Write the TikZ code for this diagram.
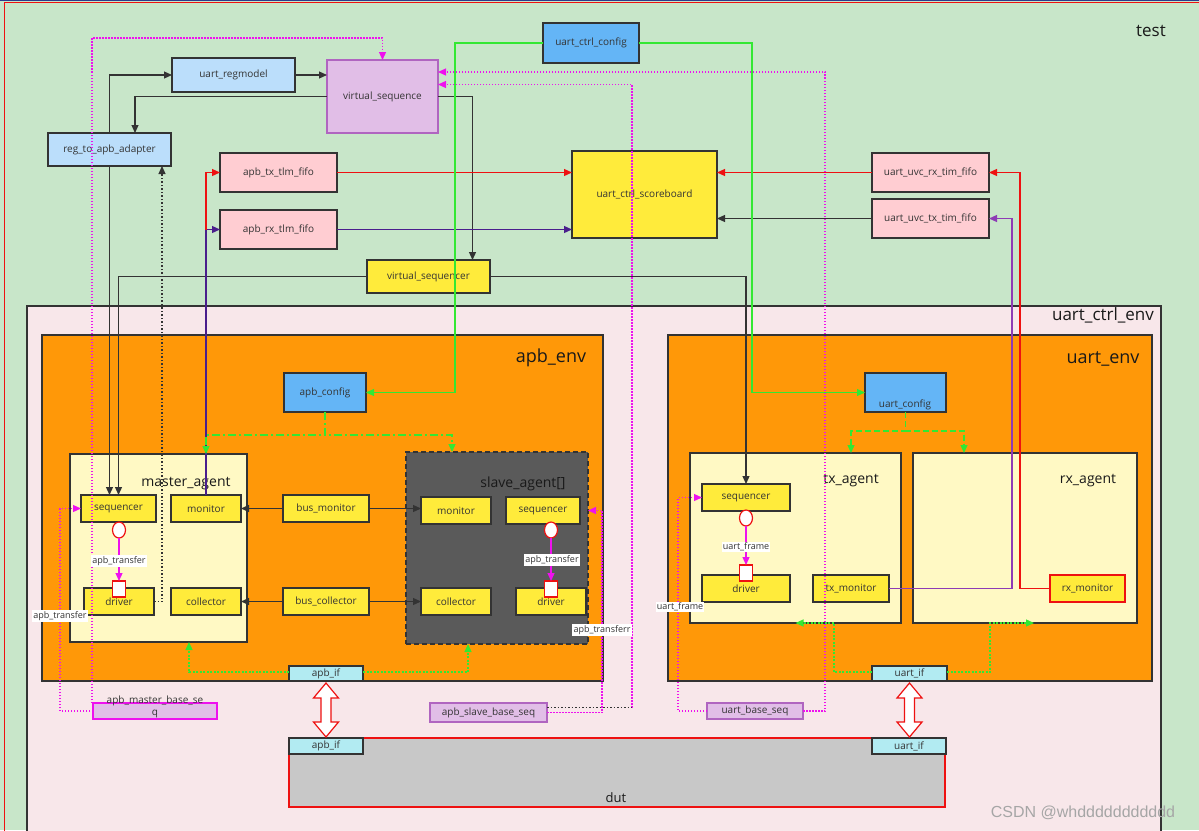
\documentclass[tikz,border=0pt]{standalone}
\usepackage{fontspec}
\setmainfont{Open Sans}
\newfontfamily\wmfont{Liberation Sans}
\usetikzlibrary{arrows.meta,shapes.geometric}
\definecolor{testbg}{HTML}{C8E6C9}
\definecolor{envbg}{HTML}{F8E7EA}
\definecolor{orng}{HTML}{FF9808}
\definecolor{agbg}{HTML}{FFF9C4}
\definecolor{ylw}{HTML}{FFEB3B}
\definecolor{cfgblue}{HTML}{64B5F6}
\definecolor{ltblue}{HTML}{BBDEFB}
\definecolor{pnk}{HTML}{FFCDD2}
\definecolor{lpur}{HTML}{E1BEE7}
\definecolor{purbd}{HTML}{B065C0}
\definecolor{ifc}{HTML}{B2EBF2}
\definecolor{dutg}{HTML}{C8C8C8}
\definecolor{dk}{HTML}{333333}
\definecolor{slv}{HTML}{5A5A5A}
\definecolor{grn}{HTML}{33E833}
\definecolor{mag}{HTML}{EE11EE}
\definecolor{rd}{HTML}{EE1111}
\definecolor{pur1}{HTML}{4A1E8C}
\definecolor{pur2}{HTML}{8E3BB5}
\definecolor{txtc}{HTML}{333333}
\definecolor{topblue}{HTML}{2A3A8C}
\newcommand\fs[1]{\fontsize{#1}{#1}\selectfont}
\newcommand\mkbox[7]{\node[#2, anchor=north west, minimum width=#5-#3, minimum height=#6-#4] (#1) at (#3,#4) {#7};}
\tikzset{
  box/.style={draw=dk, line width=1.3pt, inner sep=0pt, outer sep=0pt, text=txtc, font=\fs{10}},
  ttl/.style={text=black!90, inner sep=0pt},
  ln/.style={draw=dk, line width=1.2pt},
  arw/.style={-{Triangle[length=8pt,width=7pt]}},
  gsolid/.style={draw=grn, line width=1.2pt},
  gdd/.style={draw=grn, line width=1.3pt, dash pattern=on 8pt off 3pt on 2pt off 3pt},
  gdash/.style={draw=grn, line width=1.3pt, dash pattern=on 6pt off 3pt},
  gdot/.style={draw=grn, line width=1.3pt, dash pattern=on 2pt off 1.5pt},
  mdot/.style={draw=mag, line width=1.2pt, dash pattern=on 1.5pt off 1.5pt},
  kdot/.style={draw=dk, line width=1.2pt, dash pattern=on 1.5pt off 2pt},
  mline/.style={draw=mag, line width=1.2pt},
  lbl/.style={fill=white, inner sep=1.2pt, font=\fs{9}, text=txtc},
  portell/.style={ellipse, draw=rd, fill=white, line width=1.2pt, minimum width=13pt, minimum height=16pt, inner sep=0pt, outer sep=0pt},
  portsq/.style={rectangle, draw=rd, fill=white, line width=1.2pt, minimum width=13pt, minimum height=16pt, inner sep=0pt, outer sep=0pt},
  dblarr/.style={draw=rd, fill=white, line width=1.2pt, line join=miter},
}
\begin{document}
\begin{tikzpicture}[x=1pt,y=-1pt]
\useasboundingbox (0,0) rectangle (1199,830);
\fill[testbg] (0,0) rectangle (1199,830);
\draw[rd, line width=1.2pt] (4.5,835) -- (4.5,2.5) -- (1205,2.5);
\draw[topblue, line width=1.5pt] (0,0.5) -- (1199,0.5);
% containers
\mkbox{ucenv}{box, fill=envbg}{27}{306}{1161}{834}{}
\mkbox{apbenv}{box, fill=orng}{42}{335}{603}{681}{}
\mkbox{uenv}{box, fill=orng}{668}{335}{1152}{681}{}
% top level
\mkbox{ucc}{box, fill=cfgblue}{543}{23}{639}{63}{uart\_ctrl\_config}
\mkbox{regm}{box, fill=ltblue}{172}{58}{295}{92}{uart\_regmodel}
\mkbox{vseq}{box, fill=lpur, draw=purbd}{327}{60}{438}{133}{virtual\_sequence}
\mkbox{adapter}{box, fill=ltblue}{48}{133}{171}{166}{reg\_to\_apb\_adapter}
\mkbox{atx}{box, fill=pnk}{220}{153}{337}{192}{apb\_tx\_tlm\_fifo}
\mkbox{arx}{box, fill=pnk}{220}{210}{337}{249}{apb\_rx\_tlm\_fifo}
\mkbox{sb}{box, fill=ylw}{572}{151}{717}{238}{uart\_ctrl\_scoreboard}
\mkbox{urx}{box, fill=pnk}{872}{153}{989}{192}{uart\_uvc\_rx\_tim\_fifo}
\mkbox{utx}{box, fill=pnk}{872}{199}{989}{238}{uart\_uvc\_tx\_tim\_fifo}
\mkbox{vseqr}{box, fill=ylw}{367}{260}{490}{293}{virtual\_sequencer}
% apb_env
\mkbox{apbcfg}{box, fill=cfgblue}{284}{373}{366}{412}{apb\_config}
\mkbox{magent}{box, fill=agbg}{70}{454}{247}{642}{}
\mkbox{mseq}{box, fill=ylw}{81}{495}{156}{522}{sequencer}
\mkbox{mmon}{box, fill=ylw}{171}{495}{241}{522}{monitor}
\mkbox{mdrv}{box, fill=ylw}{84}{588}{154}{615}{driver}
\mkbox{mcol}{box, fill=ylw}{171}{588}{241}{615}{collector}
\mkbox{bmon}{box, fill=ylw}{283}{495}{369}{522}{bus\_monitor}
\mkbox{bcol}{box, fill=ylw}{283}{588}{369}{615}{bus\_collector}
\mkbox{sagent}{box, fill=slv, dash pattern=on 5pt off 3pt, line width=1.6pt}{406}{452}{588}{644}{}
\mkbox{smon}{box, fill=ylw}{421}{497}{491}{524}{monitor}
\mkbox{sseq}{box, fill=ylw}{506}{497}{580}{524}{sequencer}
\mkbox{scol}{box, fill=ylw}{421}{588}{491}{615}{collector}
\mkbox{sdrv}{box, fill=ylw}{516}{588}{586}{615}{driver}
\mkbox{apbif}{box, fill=ifc}{289}{666}{363}{681}{apb\_if}
% uart_env
\mkbox{ucfg}{box, fill=cfgblue}{865}{373}{946}{412}{}
\mkbox{txag}{box, fill=agbg}{690}{453}{901}{623}{}
\mkbox{rxag}{box, fill=agbg}{913}{453}{1137}{623}{}
\mkbox{txseq}{box, fill=ylw}{702}{484}{790}{511}{sequencer}
\mkbox{txdrv}{box, fill=ylw}{702}{575}{790}{602}{driver}
\mkbox{txmon}{box, fill=ylw}{813}{575}{889}{602}{tx\_monitor}
\mkbox{rxmon}{box, fill=ylw, draw=rd}{1050}{575}{1125}{602}{rx\_monitor}
\mkbox{uif}{box, fill=ifc}{872}{666}{947}{681}{uart\_if}
% bottom
\mkbox{ambs}{box, fill=lpur, draw=mag}{93}{703}{217}{719}{}
\mkbox{asbs}{box, fill=lpur, draw=purbd}{430}{703}{547}{722}{apb\_slave\_base\_seq}
\mkbox{ubs}{box, fill=lpur, draw=purbd}{707}{703}{803}{719}{uart\_base\_seq}
\mkbox{dut}{box, fill=dutg, draw=rd}{289}{738}{945}{807}{}
\mkbox{dapbif}{box, fill=ifc}{289}{738}{363}{754}{apb\_if}
\mkbox{duif}{box, fill=ifc}{872}{738}{946}{754}{uart\_if}
% titles
\node[ttl, font=\fs{17}] (ltest) at (1151,31) {test};
\node[ttl, font=\fs{17}] (lucenv) at (1103,315) {uart\_ctrl\_env};
\node[ttl, font=\fs{18}] (lapbenv) at (551,358) {apb\_env};
\node[ttl, font=\fs{18}] (luenv) at (1103,359) {uart\_env};
\node[ttl, font=\fs{14}] (lmag) at (186,484) {master\_agent};
\node[ttl, font=\fs{14}] (lsag) at (523,484) {slave\_agent[]};
\node[ttl, font=\fs{14}] (ltxa) at (851,481) {tx\_agent};
\node[ttl, font=\fs{14}] (lrxa) at (1088,481) {rx\_agent};
\node[ttl, font=\fs{13}] (ldut) at (616,798) {dut};
\node[inner sep=0pt, font=\fs{10}, text=txtc] (lucfg) at (905,405) {uart\_config};
\node[inner sep=0pt, font=\fontsize{10}{12}\selectfont, text=txtc, align=center] (lambs) at (155,707) {apb\_master\_base\_se\\q};
% black connectors
\draw[ln,arw] (adapter.north) |- (regm.west);
\draw[ln,arw] (regm.east) -- (regm.east -| vseq.west);
\draw[ln,arw] (vseq.west) -| ([xshift=25.5pt]adapter.north);
\draw[ln,arw] (vseq.east) -| ([xshift=44pt]vseqr.north);
\draw[ln,arw] (adapter.south) -- (adapter.south |- mseq.north);
\draw[ln,arw] (vseqr.west) -| (mseq.north);
\draw[ln,arw] (vseqr.east) -| (txseq.north);
\draw[kdot,arw] (mdrv.east) -| ([xshift=52.5pt]adapter.south);
% analysis paths
\draw[ln,draw=pur1,arw] (mmon.north) |- (arx.west);
\draw[ln,draw=rd,arw] (mmon.north |- arx.west) |- (atx.west);
\draw[ln,draw=rd,arw] (atx.east) -- (atx.east -| sb.west);
\draw[ln,draw=pur1,arw] (arx.east) -- (arx.east -| sb.west);
\draw[ln,draw=rd,arw] (urx.west) -- (urx.west -| sb.east);
\draw[ln,arw] (utx.west) -- (utx.west -| sb.east);
\draw[ln,draw=rd,arw] (rxmon.west) -| ([xshift=31pt]urx.east) -- (urx.east);
\draw[ln,draw=pur2,arw] (txmon.east) -| ([xshift=23pt]utx.east) -- (utx.east);
% config
\draw[gsolid,arw] (ucc.west) -| ([xshift=89pt]apbcfg.east) -- (apbcfg.east);
\draw[gsolid,arw] (ucc.east) -| ([xshift=-113pt]ucfg.west) -- (ucfg.west);
\draw[gdd,arw] (apbcfg.south) -- ++(0,23) -| ([xshift=47.5pt]magent.north);
\draw[gdd,arw] (apbcfg.south) -- ++(0,23) -| ([xshift=-45pt]sagent.north);
\draw[gdash,arw] (ucfg.south) -- ++(0,19) -| ([xshift=55.5pt]txag.north);
\draw[gdash,arw] (ucfg.south) -- ++(0,19) -| ([xshift=-61pt]rxag.north);
\draw[gdot,arw] ([yshift=1.5pt]apbif.west) -| ([xshift=30.5pt]magent.south);
\draw[gdot,arw] ([yshift=1.5pt]apbif.east) -| ([xshift=-29pt]sagent.south);
\draw[gdot,arw] ([yshift=1.5pt]uif.west) -| ([xshift=38.5pt]txag.south) -- (txag.south);
\draw[gdot,arw] ([yshift=1.5pt]uif.east) -| ([xshift=-35pt]rxag.south) -- ([xshift=9pt]rxag.south);
% bus monitor / collector
\draw[ln,arw] (bmon.west) -- (mmon.east);
\draw[ln,arw] (bmon.east) -- (bmon.east -| smon.west);
\draw[ln,arw] (bcol.west) -- (mcol.east);
\draw[ln,arw] (bcol.east) -- (scol.west);
% sequences
\draw[mdot,arw] (ambs.west) -| ([xshift=-21pt]mseq.west) -- (mseq.west);
\draw[mdot,arw] ([xshift=-63pt]ambs.north) -- ++(0,-665) -| (vseq.north);
\draw[mdot,arw] ([xshift=85pt,yshift=5pt]asbs.east) |- ([yshift=12pt]vseq.east);
\draw[kdot] ([yshift=5pt]asbs.east) -- ([xshift=85pt,yshift=5pt]asbs.east);
\draw[mdot,arw] (asbs.east) -| ([xshift=22pt]sseq.east) -- ([xshift=8pt]sseq.east);
\draw[mdot,arw] (ubs.west) -| ([xshift=-24pt]txseq.west) -- (txseq.west);
\draw[mdot,arw] (ubs.east) -- ++(22,0) |- ([yshift=24.5pt]vseq.east);
\node[lbl] (l1) at (60,616) {apb\_transfer};
\node[lbl] (l2) at (602,630) {apb\_transferr};
\node[lbl] (l3) at (680,607) {uart\_frame};
% sequencer-driver ports
\node[portell] (mell) at (119,530) {};
\node[portsq] (msq) at (119,589) {};
\draw[mline,arw] (mell.south) -- (msq.north);
\node[lbl] (ml) at (119,561) {apb\_transfer};
\node[portell] (sell) at (551,530) {};
\node[portsq] (ssq) at (551,589) {};
\draw[mline,arw] (sell.south) -- (ssq.north);
\node[lbl] (sl) at (552,560) {apb\_transfer};
\node[portell] (tell) at (746,518) {};
\node[portsq] (tsq) at (746,573) {};
\draw[mline,arw] (tell.south) -- (tsq.north);
\node[lbl] (tl) at (746,547) {uart\_frame};
% interface double arrows
\draw[dblarr, shift={(apbif.south)}] (0,2) -- (12.5,17) -- (5,17) -- (5,41) -- (12.5,41) -- (0,56) -- (-12.5,41) -- (-5,41) -- (-5,17) -- (-12.5,17) -- cycle;
\draw[dblarr, shift={(uif.south)}] (0,2) -- (12.5,17) -- (5,17) -- (5,41) -- (12.5,41) -- (0,56) -- (-12.5,41) -- (-5,41) -- (-5,17) -- (-12.5,17) -- cycle;
% watermark
\node[inner sep=0pt, font=\wmfont\fs{16}, text=black!35] (wm) at (1083,813) {CSDN @whddddddddddd};
\end{tikzpicture}
\end{document}
